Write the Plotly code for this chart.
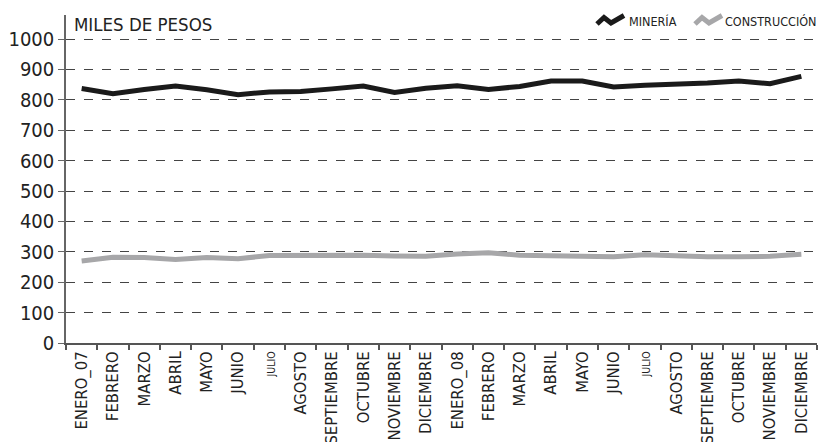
import plotly.graph_objects as go

categorias = ["ENERO_07", "FEBRERO", "MARZO", "ABRIL", "MAYO", "JUNIO", "JULIO", "AGOSTO",
              "SEPTIEMBRE", "OCTUBRE", "NOVIEMBRE", "DICIEMBRE",
              "ENERO_08", "FEBRERO ", "MARZO ", "ABRIL ", "MAYO ", "JUNIO ", "JULIO ", "AGOSTO ",
              "SEPTIEMBRE ", "OCTUBRE ", "NOVIEMBRE ", "DICIEMBRE "]
etiquetas = [("<span style='font-size:10.5px'>JULIO</span>" if c.strip() == "JULIO" else c.strip())
             for c in categorias]
mineria = [837, 820, 834, 845, 833, 817, 826, 827, 836, 845, 824, 838,
           846, 834, 844, 862, 862, 842, 848, 850, 855, 862, 853, 877]
construccion = [270, 282, 281, 275, 281, 277, 288, 289, 287, 289, 286, 285,
                293, 297, 289, 288, 289, 284, 290, 285, 284, 284, 285, 292]
yticks = [0, 100, 200, 300, 400, 500, 600, 700, 800, 900, 1000]

FONT = "Liberation Sans Narrow, DejaVu Sans Condensed, Arial Narrow, sans-serif"
W, H = 819, 442
L, R, T, B = 66, 2, 15, 99
pw, ph = W - L - R, H - T - B

fig = go.Figure()
fig.add_trace(go.Scatter(x=categorias, y=construccion, mode="lines", name="CONSTRUCCIÓN",
                         line=dict(color="#a7a7a9", width=5), showlegend=False))
fig.add_trace(go.Scatter(x=categorias, y=mineria, mode="lines", name="MINERÍA",
                         line=dict(color="#1a1a1a", width=5), showlegend=False))

def px2paper(x, y):
    return (x - L) / pw, (H - B - y) / ph

def icon_path(x0):
    pts = [(x0, 24), (x0 + 7, 17.5), (x0 + 14, 23), (x0 + 27, 15.5)]
    pp = [px2paper(x, y) for x, y in pts]
    return "M " + " L ".join(f"{a:.5f},{b:.5f}" for a, b in pp)

fig.add_shape(type="path", xref="paper", yref="paper", path=icon_path(597),
              line=dict(color="#1a1a1a", width=5))
fig.add_shape(type="path", xref="paper", yref="paper", path=icon_path(695),
              line=dict(color="#a7a7a9", width=5))

fig.add_annotation(xref="paper", yref="paper", x=px2paper(627, 0)[0], y=px2paper(0, 21)[1],
                   text="MINERÍA", showarrow=False, xanchor="left", yanchor="middle",
                   font=dict(family=FONT, size=12.5, color="#222"))
fig.add_annotation(xref="paper", yref="paper", x=px2paper(818, 0)[0], y=px2paper(0, 21)[1],
                   text="CONSTRUCCIÓN", showarrow=False, xanchor="right", yanchor="middle",
                   font=dict(family=FONT, size=12.5, color="#222"))
fig.add_annotation(xref="paper", yref="paper", x=px2paper(72, 0)[0], y=px2paper(0, 24)[1],
                   text="MILES DE PESOS", showarrow=False, xanchor="left", yanchor="middle",
                   font=dict(family=FONT, size=18.5, color="#222"))

fig.update_layout(
    width=W, height=H, margin=dict(l=L, r=R, t=T, b=B, autoexpand=False),
    paper_bgcolor="white", plot_bgcolor="white",
    font=dict(family=FONT, color="#222"),
)
fig.update_xaxes(
    type="category", categoryorder="array", categoryarray=categorias,
    tickmode="array", tickvals=categorias, ticktext=etiquetas,
    range=[-0.5, len(categorias) - 0.5], automargin=False,
    tickangle=-90, tickfont=dict(family=FONT, size=16.5, color="#222"),
    showline=True, linecolor="#555", linewidth=1.5,
    ticks="outside", tickson="boundaries", ticklen=5, tickcolor="#555", tickwidth=1.5,
    showgrid=False, zeroline=False,
)
fig.update_yaxes(
    range=[0, 1079], tickmode="array", tickvals=yticks, automargin=False,
    tickfont=dict(family=FONT, size=20, color="#222"),
    showline=True, linecolor="#666", linewidth=1.5,
    ticks="outside", ticklen=6, tickcolor="#666",
    showgrid=True, gridcolor="#444", griddash="dash", gridwidth=1,
    zeroline=False,
)
fig.write_html("out.html", config={"displayModeBar": False},
               post_script="document.body.style.margin='0';document.body.style.overflow='hidden';")
